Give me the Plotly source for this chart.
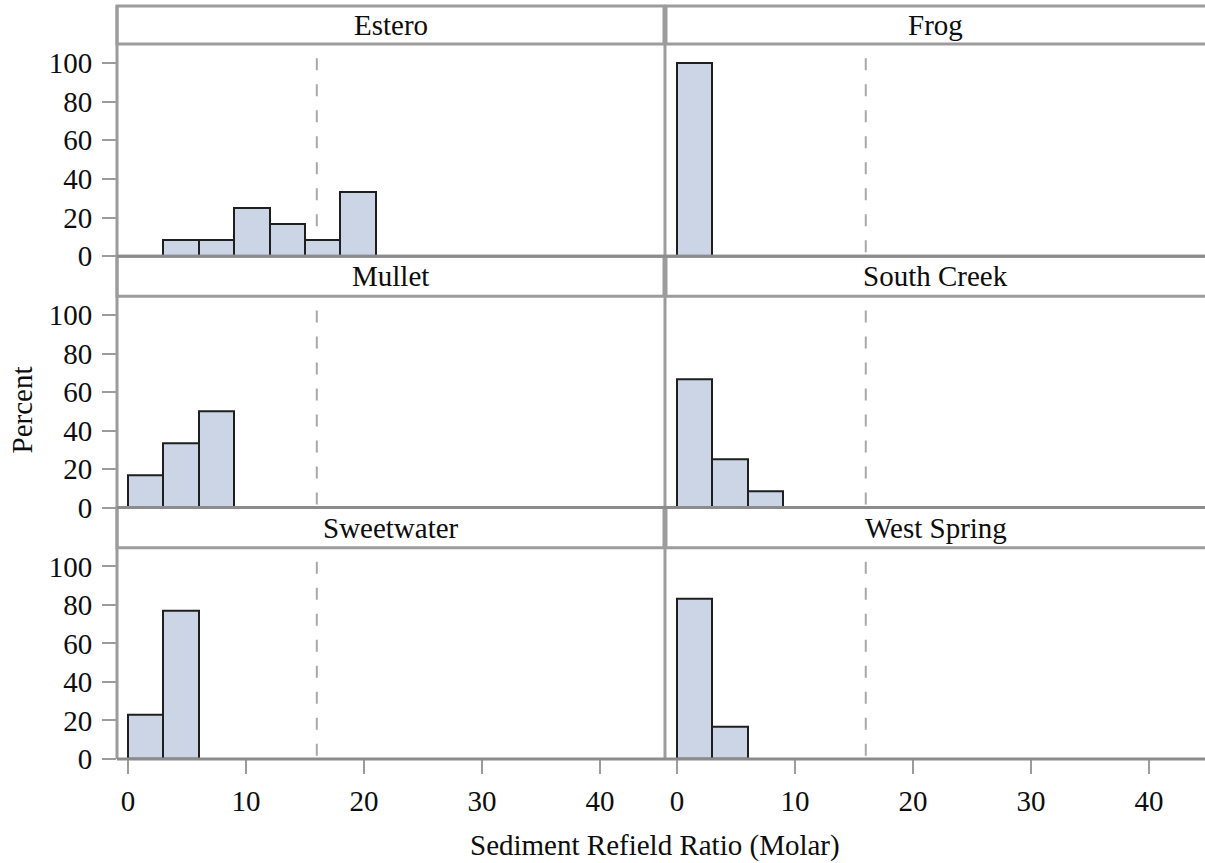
import plotly.graph_objects as go

# ---- data: percent of samples per 3-unit bin of the sediment Redfield ratio ----
panel_names = ["Estero", "Frog", "Mullet", "South Creek", "Sweetwater", "West Spring"]

estero_bins = [3, 6, 9, 12, 15, 18]
estero_pct = [8.33, 8.33, 25.0, 16.67, 8.33, 33.33]

frog_bins = [0]
frog_pct = [100.0]

mullet_bins = [0, 3, 6]
mullet_pct = [16.67, 33.33, 50.0]

south_creek_bins = [0, 3, 6]
south_creek_pct = [66.67, 25.0, 8.33]

sweetwater_bins = [0, 3]
sweetwater_pct = [23.08, 76.92]

west_spring_bins = [0, 3]
west_spring_pct = [83.33, 16.67]

bin_width = 3
redfield_ratio = 16

x_ticks = [0, 10, 20, 30, 40]
y_ticks = [0, 20, 40, 60, 80, 100]

bins = [estero_bins, frog_bins, mullet_bins, south_creek_bins, sweetwater_bins, west_spring_bins]
pcts = [estero_pct, frog_pct, mullet_pct, south_creek_pct, sweetwater_pct, west_spring_pct]

# ---- layout geometry ----
W, H = 1205, 880          # figure size
GW, GH = 1205, 863        # grid used for placing the panels
col_px = [(117, 664), (666, 1205)]
col_xrange = [[-0.93, 45.42], [-0.93, 44.75]]
row_px = [(44, 256), (296, 507), (547, 758)]     # plot area (top, bottom)
strip_px = [(6, 44), (256, 296), (507, 547)]     # strip (top, bottom)
y_range = [0, 109.8]

FONT = "Liberation Serif"
FS = 29
TXT = "#0d0d0d"
GRID = "#9c9c9c"
FILL = "#cbd5e6"
EDGE = "#1f1f1f"


def px_x(p):
    return p / GW


def px_y(p):
    return 1 - p / GH


fig = go.Figure()
layout = {}
shapes = []
annotations = []

for i, name in enumerate(panel_names):
    r, c = divmod(i, 2)
    n = i + 1
    xa = "x" if n == 1 else f"x{n}"
    ya = "y" if n == 1 else f"y{n}"
    centers = [b + bin_width / 2 for b in bins[i]]
    fig.add_trace(go.Bar(
        x=centers, y=pcts[i], width=bin_width,
        marker=dict(color=FILL, line=dict(color=EDGE, width=2)),
        xaxis=xa, yaxis=ya, showlegend=False, hoverinfo="x+y",
    ))

    bottom = r == 2
    left = c == 0
    layout["xaxis" if n == 1 else f"xaxis{n}"] = dict(
        domain=[px_x(col_px[c][0]), px_x(col_px[c][1])],
        range=col_xrange[c], anchor=ya,
        showgrid=False, zeroline=False, showline=False,
        tickvals=x_ticks if bottom else [],
        ticks="outside" if bottom else "", ticklen=14, tickwidth=2, tickcolor=GRID,
        showticklabels=bottom,
        tickfont=dict(family=FONT, size=FS, color=TXT),
        ticklabelstandoff=2,
    )
    layout["yaxis" if n == 1 else f"yaxis{n}"] = dict(
        domain=[px_y(row_px[r][1]), px_y(row_px[r][0])],
        range=y_range, anchor=xa,
        showgrid=False, zeroline=False, showline=False,
        tickvals=y_ticks if left else [],
        ticks="outside" if left else "", ticklen=14, tickwidth=2, tickcolor=GRID,
        showticklabels=left,
        tickfont=dict(family=FONT, size=FS, color=TXT),
        ticklabelstandoff=4,
    )

    # dashed reference line at the Redfield ratio
    shapes.append(dict(
        type="line", xref=xa, yref=ya,
        x0=redfield_ratio, x1=redfield_ratio, y0=102.5, y1=0,
        line=dict(color="#a8a8a8", width=2, dash="12px,14px"),
        layer="below",
    ))

    # strip header
    sx0, sx1 = col_px[c]
    st, sb = strip_px[r]
    shapes.append(dict(
        type="rect", xref="paper", yref="paper",
        x0=px_x(sx0), x1=px_x(sx1 + (8 if c == 1 else 0)),
        y0=px_y(sb), y1=px_y(st),
        line=dict(color=GRID, width=3), fillcolor="rgba(0,0,0,0)",
    ))
    annotations.append(dict(
        text=name, xref="paper", yref="paper",
        x=px_x((sx0 + sx1) / 2), y=px_y((st + sb) / 2),
        xanchor="center", yanchor="middle", showarrow=False,
        font=dict(family=FONT, size=FS, color=TXT),
    ))

# panel frame lines: left edge, column separator, bottom of each row
shapes.append(dict(type="line", xref="paper", yref="paper",
                   x0=px_x(117), x1=px_x(117), y0=px_y(758), y1=px_y(6),
                   line=dict(color=GRID, width=3)))
shapes.append(dict(type="line", xref="paper", yref="paper",
                   x0=px_x(665), x1=px_x(665), y0=px_y(758), y1=px_y(6),
                   line=dict(color=GRID, width=3)))
for (top, bot) in row_px:
    shapes.append(dict(type="line", xref="paper", yref="paper",
                       x0=px_x(117), x1=1.01, y0=px_y(bot), y1=px_y(bot),
                       line=dict(color="#8c8c8c", width=3)))

annotations.append(dict(
    text="Sediment Refield Ratio (Molar)", xref="paper", yref="paper",
    x=px_x(655), y=px_y(845), xanchor="center", yanchor="middle", showarrow=False,
    font=dict(family=FONT, size=FS, color=TXT),
))
annotations.append(dict(
    text="Percent", xref="paper", yref="paper", textangle=-90,
    x=px_x(22), y=px_y(410), xanchor="center", yanchor="middle", showarrow=False,
    font=dict(family=FONT, size=FS, color=TXT),
))

fig.update_layout(
    width=W, height=H, autosize=False,
    margin=dict(l=0, r=0, t=0, b=0),
    paper_bgcolor="white", plot_bgcolor="white",
    bargap=0, shapes=shapes, annotations=annotations,
    **layout,
)

fig.write_html("out.html", config={"responsive": False})
